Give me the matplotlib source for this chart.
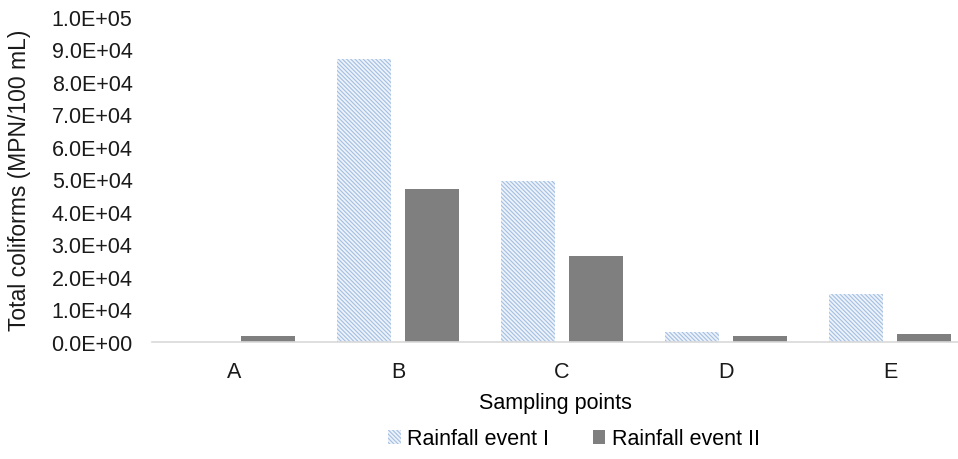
import numpy as np
import matplotlib.pyplot as plt
from matplotlib.ticker import FuncFormatter

plt.rcParams['font.family'] = ['Liberation Sans', 'DejaVu Sans']
plt.rcParams['hatch.linewidth'] = 0.8

points = ["A", "B", "C", "D", "E"]
event_1 = [0, 87000, 49500, 3000, 14800]
event_2 = [1800, 47000, 26500, 1700, 2500]

fig = plt.figure(figsize=(9.58, 4.6), dpi=100)
ax = fig.add_axes([152 / 958, (460 - 343) / 460, (958 - 152) / 958, 325 / 460])

x = np.arange(len(points))
w = 0.33
ax.bar(x - 0.207, event_1, w, color="#eef3fa", edgecolor="#a3bfe3", hatch="\\\\\\\\\\\\\\\\",
       linewidth=0, label="Rainfall event I")
ax.bar(x + 0.207, event_2, w, color="#7f7f7f", label="Rainfall event II")

ax.set_xlim(-0.5, (958 - 152) / 164 - 0.5)
ax.set_ylim(0, 100000)
ax.set_yticks(np.arange(0, 100001, 10000))
ax.yaxis.set_major_formatter(FuncFormatter(lambda v, p: f"{v:.1E}"))
ax.set_xticks(x)
ax.set_xticklabels(points)

for s in ["top", "right", "left"]:
    ax.spines[s].set_visible(False)
ax.spines["bottom"].set_color("#d9d9d9")
ax.spines["bottom"].set_linewidth(1.2)
ax.tick_params(axis="both", length=0, labelsize=15.5, colors="#1a1a1a")
ax.tick_params(axis="y", pad=14)
ax.tick_params(axis="x", pad=14)

ax.set_xlabel("Sampling points", fontsize=15.5, labelpad=7)
fig.text(20 / 958, 1 - 180 / 460, "Total coliforms (MPN/100 mL)", rotation=90,
         ha="center", va="center", fontsize=16.5, color="#1a1a1a")

fig.legend(loc="center", bbox_to_anchor=(574 / 958, 1 - 440 / 460), ncol=2, frameon=False,
           fontsize=15.5, handlelength=0.6, handleheight=0.6, handletextpad=0.3, columnspacing=2.0)

fig.savefig("out.png", dpi=100)
